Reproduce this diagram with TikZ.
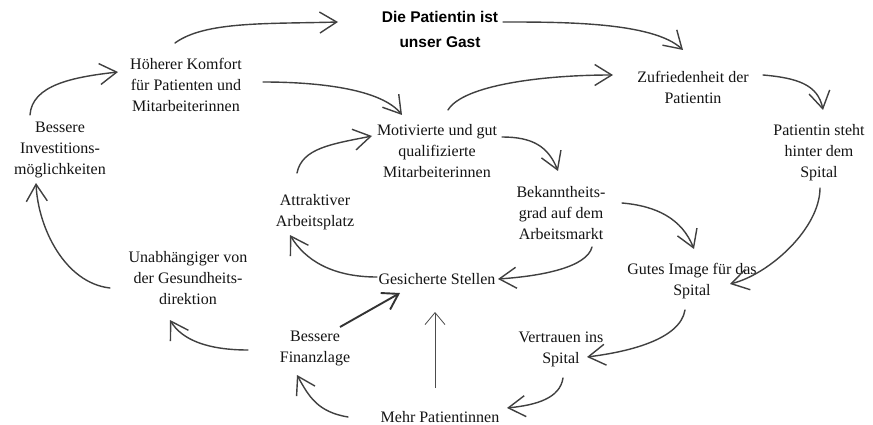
\documentclass[tikz,border=0pt]{standalone}
\usepackage{fontspec}
\setmainfont{Liberation Serif}
\newfontfamily\titlefont{Liberation Sans}
\usetikzlibrary{arrows.meta}
\begin{document}
\begin{tikzpicture}[x=1pt,y=-1pt,
  lbl/.style={align=center, inner sep=0pt, text=black!92, font=\fontsize{16}{21}\selectfont},
  ttl/.style={align=center, inner sep=0pt, text=black, font=\titlefont\bfseries\fontsize{15.5}{25}\selectfont},
  conn/.style={draw=black!75, line width=1.4pt, line cap=round, -{Straight Barb[length=17pt,width=21pt]}},
  thinconn/.style={draw=black!70, line width=0.8pt, -{Straight Barb[length=12pt,width=20pt]}},
  boldconn/.style={draw=black!80, line width=1.9pt, -{Straight Barb[length=15pt,width=19pt]}}
]
\useasboundingbox[fill=white] (0,0) rectangle (873,425);

\node[ttl] (gast) at (440,29) {Die Patientin ist\\unser Gast};
\node[lbl] (komfort) at (186,85) {Höherer Komfort\\für Patienten und\\Mitarbeiterinnen};
\node[lbl] (invest) at (60,150) {Bessere\\Investitions-\\möglichkeiten};
\node[lbl] (motiv) at (437,151) {Motivierte und gut\\qualifizierte\\Mitarbeiterinnen};
\node[lbl] (zufr) at (693,87) {Zufriedenheit der\\Patientin};
\node[lbl] (steht) at (819,153) {Patientin steht\\hinter dem\\Spital};
\node[lbl] (attr) at (315,212) {Attraktiver\\Arbeitsplatz};
\node[lbl] (bek) at (561,213) {Bekanntheits-\\grad auf dem\\Arbeitsmarkt};
\node[lbl] (unab) at (188,278) {Unabhängiger von\\der Gesundheits-\\direktion};
\node[lbl] (stellen) at (437,279) {Gesicherte Stellen};
\node[lbl] (image) at (692,281) {Gutes Image für das\\Spital};
\node[lbl] (finanz) at (315,348) {Bessere\\Finanzlage};
\node[lbl] (vertr) at (561,349) {Vertrauen ins\\Spital};
\node[lbl] (mehr) at (440,417) {Mehr Patientinnen};

% 1
\draw[conn] ([shift={(-11,-42)}]komfort.center) .. controls +(30,-22) and +(-70,2) .. ([shift={(-102,-7)}]gast.center);
% 2
\draw[conn] ([shift={(63,-7)}]gast.center) .. controls +(60,0) and +(-30,-28) .. ([shift={(-10,-37)}]zufr.center);
% 3
\draw[conn] ([shift={(77,-3)}]komfort.center) .. controls +(60,0) and +(-20,-25) .. ([shift={(-35,-36)}]motiv.center);
% 4
\draw[conn] ([shift={(-30,-35)}]invest.center) .. controls +(2,-30) and +(-45,5) .. ([shift={(-68,-13)}]komfort.center);
% 5
\draw[conn] ([shift={(-18,-39)}]attr.center) .. controls +(5,-25) and +(-40,8) .. ([shift={(-65,-15)}]motiv.center);
% 6
\draw[conn] ([shift={(11,-41)}]motiv.center) .. controls +(15,-25) and +(-70,0) .. ([shift={(-80,-12)}]zufr.center);
% 7
\draw[conn] ([shift={(65,-14)}]motiv.center) .. controls +(30,0) and +(-10,-25) .. ([shift={(-3,-42)}]bek.center);
% 8
\draw[conn] ([shift={(70,-12)}]zufr.center) .. controls +(35,3) and +(-5,-25) .. ([shift={(4,-43)}]steht.center);
% 9
\draw[conn] ([shift={(1,35)}]steht.center) .. controls +(0,40) and +(40,-10) .. ([shift={(38,3)}]image.center);
% 10
\draw[conn] ([shift={(61,-10)}]bek.center) .. controls +(35,3) and +(-12,-30) .. ([shift={(2,-32)}]image.center);
% 11
\draw[conn] ([shift={(31,34)}]bek.center) .. controls +(-5,20) and +(45,-3) .. ([shift={(61,0)}]stellen.center);
% 12
\draw[conn] ([shift={(-60,-2)}]stellen.center) .. controls +(-45,0) and +(15,25) .. ([shift={(-25,23)}]attr.center);
% 13
\draw[conn] ([shift={(-7,29)}]image.center) .. controls +(-5,30) and +(40,-5) .. ([shift={(26,8)}]vertr.center);
% 14
\draw[conn] ([shift={(2,29)}]vertr.center) .. controls +(-3,20) and +(30,-3) .. ([shift={(67,-9)}]mehr.center);
% 15
\draw[thinconn] ([shift={(-5,-29)}]mehr.center) -- ([shift={(-2,33)}]stellen.center);
% 16
\draw[conn] ([shift={(-92,0)}]mehr.center) .. controls +(-30,-5) and +(12,22) .. ([shift={(-18,27)}]finanz.center);
% 17
\draw[boldconn] ([shift={(25,-21)}]finanz.center) -- ([shift={(-37,14)}]stellen.center);
% 18
\draw[conn] ([shift={(-67,2)}]finanz.center) .. controls +(-40,0) and +(12,20) .. ([shift={(-18,42)}]unab.center);
% 19
\draw[conn] ([shift={(-78,10)}]unab.center) .. controls +(-45,-5) and +(2,45) .. ([shift={(-24,33)}]invest.center);
\end{tikzpicture}
\end{document}
